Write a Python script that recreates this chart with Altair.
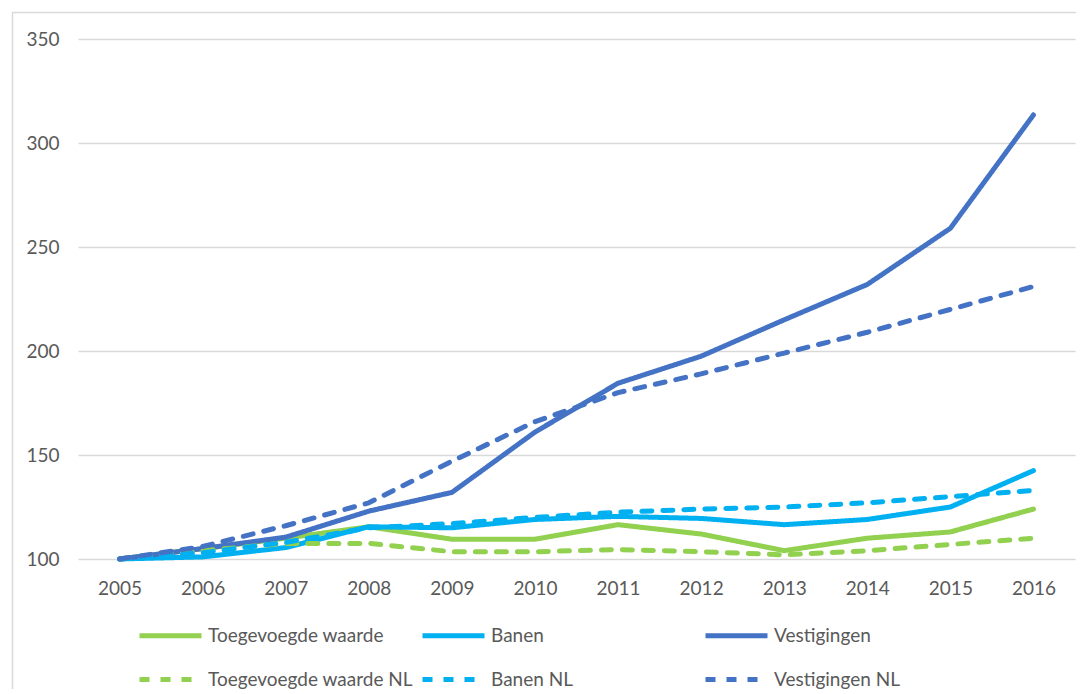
import altair as alt
import pandas as pd

years = [2005, 2006, 2007, 2008, 2009, 2010, 2011, 2012, 2013, 2014, 2015, 2016]
series_names = ["Toegevoegde waarde", "Banen", "Vestigingen",
                "Toegevoegde waarde NL", "Banen NL", "Vestigingen NL"]

toegevoegde_waarde = [100, 105, 110, 115.5, 109.5, 109.5, 116.5, 112, 104, 110, 113, 124]
banen = [100, 101, 105.5, 115.5, 115, 119, 120.5, 119.5, 116.5, 119, 125, 142.5]
vestigingen = [100, 105, 110.5, 123, 132, 161, 184.5, 197.5, 215, 232, 259, 313.5]
toegevoegde_waarde_nl = [100, 104, 107.5, 107.5, 103.5, 103.5, 104.5, 103.5, 102, 104, 107, 110]
banen_nl = [100, 103, 108, 115, 117, 120, 122.5, 124, 125, 127, 130, 133]
vestigingen_nl = [100, 106, 116, 127, 147, 166, 180, 189, 199, 209, 220, 231]

y_ticks = [100, 150, 200, 250, 300, 350]

all_series = [toegevoegde_waarde, banen, vestigingen,
              toegevoegde_waarde_nl, banen_nl, vestigingen_nl]
rows = []
for name, vals in zip(series_names, all_series):
    for yr, v in zip(years, vals):
        rows.append({"Jaar": str(yr), "Reeks": name, "Index": v})
df = pd.DataFrame(rows)

colors = ["#92D050", "#00B0F0", "#4472C4", "#92D050", "#00B0F0", "#4472C4"]
dashes = [[1, 0], [1, 0], [1, 0], [10, 11], [10, 11], [10, 11]]

FONT = "Lato"
TXT = "#595959"

legend = alt.Legend(
    title=None, orient="none", legendX=59, legendY=563, columns=3,
    direction="horizontal",
    gridAlign="all", columnPadding=-1, rowPadding=-21,
    symbolType="stroke", symbolSize=3844, symbolStrokeWidth=5,
    labelFont=FONT, labelFontSize=19, labelColor=TXT, labelOffset=4,
    labelLimit=400,
)

lines = alt.Chart(df).mark_line(
    strokeWidth=5, strokeCap="round", strokeJoin="round"
).encode(
    x=alt.X("Jaar:O", sort=[str(y) for y in years],
            scale=alt.Scale(type="point", padding=0.5),
            axis=alt.Axis(title=None, labelAngle=0, ticks=False, domain=False,
                          labelPadding=20, labelFont=FONT, labelFontSize=19,
                          labelColor=TXT)),
    y=alt.Y("Index:Q", scale=alt.Scale(domain=[100, 350], nice=False, zero=False),
            axis=alt.Axis(title=None, values=y_ticks, ticks=False, domain=False,
                          grid=True, gridColor="#D9D9D9", gridWidth=1.3,
                          labelPadding=19, labelFont=FONT, labelFontSize=19,
                          labelColor=TXT)),
    color=alt.Color("Reeks:N", scale=alt.Scale(domain=series_names, range=colors),
                    legend=legend),
    strokeDash=alt.StrokeDash("Reeks:N",
                              scale=alt.Scale(domain=series_names, range=dashes),
                              legend=legend),
)

frame = alt.Chart(pd.DataFrame({"k": [0]})).mark_rect(
    fillOpacity=0, stroke="#D9D9D9", strokeWidth=1.5
).encode(
    x=alt.value(-65.5), x2=alt.value(1200), y=alt.value(-26.5), y2=alt.value(900)
)

chart = alt.layer(frame, lines).properties(
    width=997, height=520,
    autosize=alt.AutoSizeParams(type="none"),
    padding={"left": 70, "top": 31, "right": 1, "bottom": 130},
).configure_view(stroke=None)

chart.save("out.html", embed_options={"renderer": "svg", "actions": False})
